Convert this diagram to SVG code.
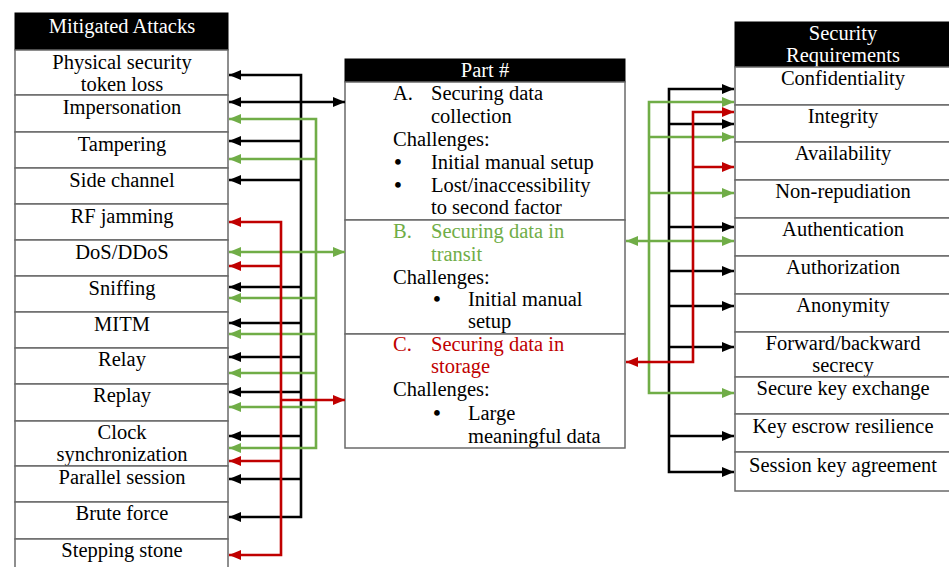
<svg xmlns="http://www.w3.org/2000/svg" width="949" height="567" viewBox="0 0 949 567" font-family="'Liberation Serif', 'DejaVu Serif', serif">
  <style>
    text { font-family: 'Liberation Serif', 'DejaVu Serif', serif; font-size: 20.5px; fill: #000; }
    .c { text-anchor: middle; }
    .bul { font-size: 21px; font-weight: bold; }
    .hd { fill: #fff; }
    .hdbox { fill: #000; stroke: #000; stroke-width: 1; }
    .box { fill: #fff; stroke: #6a6a6a; stroke-width: 1.5; }
    .grn { fill: #70ad47; }
    .red { fill: #c00000; }
    .k { fill: none; stroke: #000; stroke-width: 2.6; }
    .g { fill: none; stroke: #70ad47; stroke-width: 2.6; }
    .r { fill: none; stroke: #c00000; stroke-width: 2.6; }
    .k, .g, .r { stroke-linejoin: miter; stroke-linecap: butt; }
  </style>
  <defs>
    <marker id="ak" markerUnits="userSpaceOnUse" markerWidth="12" markerHeight="10" refX="12" refY="5" orient="auto-start-reverse">
      <path d="M0,0 L12,5 L0,10 Z" fill="#000"/>
    </marker>
    <marker id="ag" markerUnits="userSpaceOnUse" markerWidth="12" markerHeight="10" refX="12" refY="5" orient="auto-start-reverse">
      <path d="M0,0 L12,5 L0,10 Z" fill="#70ad47"/>
    </marker>
    <marker id="ar" markerUnits="userSpaceOnUse" markerWidth="12" markerHeight="10" refX="12" refY="5" orient="auto-start-reverse">
      <path d="M0,0 L12,5 L0,10 Z" fill="#c00000"/>
    </marker>
  </defs>

  <rect width="949" height="567" fill="#fff"/>

  <!-- Left column: mitigated attacks -->
  <g id="attacks-header">
    <rect class="hdbox" x="15" y="13" width="213" height="37"/>
    <text class="c hd" x="122" y="33">Mitigated Attacks</text>
  </g>
  <g id="atk-physical-token">
    <rect class="box" x="15" y="50" width="213" height="45"/>
    <text class="c" x="122" y="69">Physical security</text>
    <text class="c" x="122" y="91">token loss</text>
  </g>
  <g id="atk-impersonation">
    <rect class="box" x="15" y="95" width="213" height="37"/>
    <text class="c" x="122" y="114">Impersonation</text>
  </g>
  <g id="atk-tampering">
    <rect class="box" x="15" y="132" width="213" height="36"/>
    <text class="c" x="122" y="151">Tampering</text>
  </g>
  <g id="atk-side-channel">
    <rect class="box" x="15" y="168" width="213" height="36"/>
    <text class="c" x="122" y="187">Side channel</text>
  </g>
  <g id="atk-rf-jamming">
    <rect class="box" x="15" y="204" width="213" height="36"/>
    <text class="c" x="122" y="223">RF jamming</text>
  </g>
  <g id="atk-dos">
    <rect class="box" x="15" y="240" width="213" height="36"/>
    <text class="c" x="122" y="259">DoS/DDoS</text>
  </g>
  <g id="atk-sniffing">
    <rect class="box" x="15" y="276" width="213" height="36"/>
    <text class="c" x="122" y="295">Sniffing</text>
  </g>
  <g id="atk-mitm">
    <rect class="box" x="15" y="312" width="213" height="36"/>
    <text class="c" x="122" y="331">MITM</text>
  </g>
  <g id="atk-relay">
    <rect class="box" x="15" y="348" width="213" height="36"/>
    <text class="c" x="122" y="366">Relay</text>
  </g>
  <g id="atk-replay">
    <rect class="box" x="15" y="384" width="213" height="37"/>
    <text class="c" x="122" y="402">Replay</text>
  </g>
  <g id="atk-clock-sync">
    <rect class="box" x="15" y="421" width="213" height="45"/>
    <text class="c" x="122" y="439">Clock</text>
    <text class="c" x="122" y="461">synchronization</text>
  </g>
  <g id="atk-parallel-session">
    <rect class="box" x="15" y="466" width="213" height="36"/>
    <text class="c" x="122" y="484">Parallel session</text>
  </g>
  <g id="atk-brute-force">
    <rect class="box" x="15" y="502" width="213" height="37"/>
    <text class="c" x="122" y="520">Brute force</text>
  </g>
  <g id="atk-stepping-stone">
    <rect class="box" x="15" y="539" width="213" height="40"/>
    <text class="c" x="122" y="557">Stepping stone</text>
  </g>

  <!-- Centre: parts of the scheme -->
  <g id="part-header">
    <rect class="hdbox" x="345" y="59" width="280" height="23"/>
    <text class="c hd" x="485" y="77">Part #</text>
  </g>
  <g id="part-a">
    <rect class="box" x="345" y="82" width="280" height="138"/>
    <text x="393" y="100">A.</text>
    <text x="431" y="100">Securing data</text>
    <text x="431" y="123">collection</text>
    <text x="393" y="146">Challenges:</text>
    <text class="c bul" x="398" y="169">•</text>
    <text x="431" y="169">Initial manual setup</text>
    <text class="c bul" x="398" y="192">•</text>
    <text x="431" y="192">Lost/inaccessibility</text>
    <text x="431" y="214">to second factor</text>
  </g>
  <g id="part-b">
    <rect class="box" x="345" y="220" width="280" height="114"/>
    <text class="grn" x="393" y="238">B.</text>
    <text class="grn" x="431" y="238">Securing data in</text>
    <text class="grn" x="431" y="261">transit</text>
    <text x="393" y="284">Challenges:</text>
    <text class="c bul" x="437" y="306">•</text>
    <text x="468" y="306">Initial manual</text>
    <text x="468" y="328">setup</text>
  </g>
  <g id="part-c">
    <rect class="box" x="345" y="334" width="280" height="114"/>
    <text class="red" x="393" y="351">C.</text>
    <text class="red" x="431" y="351">Securing data in</text>
    <text class="red" x="431" y="373">storage</text>
    <text x="393" y="396">Challenges:</text>
    <text class="c bul" x="437" y="420">•</text>
    <text x="468" y="420">Large</text>
    <text x="468" y="443">meaningful data</text>
  </g>

  <!-- Right column: security requirements -->
  <g id="req-header">
    <rect class="hdbox" x="735" y="22" width="215" height="45"/>
    <text class="c hd" x="843" y="40">Security</text>
    <text class="c hd" x="843" y="62">Requirements</text>
  </g>
  <g id="req-confidentiality">
    <rect class="box" x="735" y="67" width="215" height="38"/>
    <text class="c" x="843" y="85">Confidentiality</text>
  </g>
  <g id="req-integrity">
    <rect class="box" x="735" y="105" width="215" height="37"/>
    <text class="c" x="843" y="123">Integrity</text>
  </g>
  <g id="req-availability">
    <rect class="box" x="735" y="142" width="215" height="38"/>
    <text class="c" x="843" y="160">Availability</text>
  </g>
  <g id="req-non-repudiation">
    <rect class="box" x="735" y="180" width="215" height="38"/>
    <text class="c" x="843" y="198">Non-repudiation</text>
  </g>
  <g id="req-authentication">
    <rect class="box" x="735" y="218" width="215" height="38"/>
    <text class="c" x="843" y="236">Authentication</text>
  </g>
  <g id="req-authorization">
    <rect class="box" x="735" y="256" width="215" height="38"/>
    <text class="c" x="843" y="274">Authorization</text>
  </g>
  <g id="req-anonymity">
    <rect class="box" x="735" y="294" width="215" height="38"/>
    <text class="c" x="843" y="312">Anonymity</text>
  </g>
  <g id="req-forward-backward">
    <rect class="box" x="735" y="332" width="215" height="45"/>
    <text class="c" x="843" y="350">Forward/backward</text>
    <text class="c" x="843" y="372">secrecy</text>
  </g>
  <g id="req-key-exchange">
    <rect class="box" x="735" y="377" width="215" height="37"/>
    <text class="c" x="843" y="395">Secure key exchange</text>
  </g>
  <g id="req-key-escrow">
    <rect class="box" x="735" y="414" width="215" height="38"/>
    <text class="c" x="843" y="433">Key escrow resilience</text>
  </g>
  <g id="req-session-key">
    <rect class="box" x="735" y="452" width="215" height="39"/>
    <text class="c" x="843" y="472">Session key agreement</text>
  </g>

  <!-- Connectors -->
  <g id="connectors">
    <!-- part A (black), left side -->
    <path class="k" d="M229,75 H301 V517 H229" marker-start="url(#ak)" marker-end="url(#ak)"/>
    <path class="k" d="M229,102 H345" marker-start="url(#ak)" marker-end="url(#ak)"/>
    <path class="k" d="M301,141 H229" marker-end="url(#ak)"/>
    <path class="k" d="M301,180 H229" marker-end="url(#ak)"/>
    <path class="k" d="M301,287 H229" marker-end="url(#ak)"/>
    <path class="k" d="M301,323 H229" marker-end="url(#ak)"/>
    <path class="k" d="M301,357 H229" marker-end="url(#ak)"/>
    <path class="k" d="M301,392 H229" marker-end="url(#ak)"/>
    <path class="k" d="M301,436 H229" marker-end="url(#ak)"/>
    <path class="k" d="M301,479 H229" marker-end="url(#ak)"/>

    <!-- part B (green), left side -->
    <path class="g" d="M229,119 H316 V448 H229" marker-start="url(#ag)" marker-end="url(#ag)"/>
    <path class="g" d="M316,159 H229" marker-end="url(#ag)"/>
    <path class="g" d="M229,252 H345" marker-start="url(#ag)" marker-end="url(#ag)"/>
    <path class="g" d="M316,298 H229" marker-end="url(#ag)"/>
    <path class="g" d="M316,334 H229" marker-end="url(#ag)"/>
    <path class="g" d="M316,373 H229" marker-end="url(#ag)"/>
    <path class="g" d="M316,407 H229" marker-end="url(#ag)"/>

    <!-- part C (red), left side -->
    <path class="r" d="M229,222 H281 V555 H229" marker-start="url(#ar)" marker-end="url(#ar)"/>
    <path class="r" d="M281,266 H229" marker-end="url(#ar)"/>
    <path class="r" d="M281,461 H229" marker-end="url(#ar)"/>
    <path class="r" d="M281,400 H345" marker-end="url(#ar)"/>

    <!-- part A (black), right side -->
    <path class="k" d="M734,89 H669 V472 H734" marker-start="url(#ak)" marker-end="url(#ak)"/>
    <path class="k" d="M669,124 H734" marker-end="url(#ak)"/>
    <path class="k" d="M669,227 H734" marker-end="url(#ak)"/>
    <path class="k" d="M669,271 H734" marker-end="url(#ak)"/>
    <path class="k" d="M669,306 H734" marker-end="url(#ak)"/>
    <path class="k" d="M669,347 H734" marker-end="url(#ak)"/>
    <path class="k" d="M669,436 H734" marker-end="url(#ak)"/>

    <!-- part B (green), right side -->
    <path class="g" d="M734,102 H649 V393 H734" marker-start="url(#ag)" marker-end="url(#ag)"/>
    <path class="g" d="M649,137 H734" marker-end="url(#ag)"/>
    <path class="g" d="M649,193 H734" marker-end="url(#ag)"/>
    <path class="g" d="M626,241 H734" marker-start="url(#ag)" marker-end="url(#ag)"/>

    <!-- part C (red), right side -->
    <path class="r" d="M734,112 H693 V362 H626" marker-start="url(#ar)" marker-end="url(#ar)"/>
    <path class="r" d="M693,167 H734" marker-end="url(#ar)"/>
  </g>
</svg>
